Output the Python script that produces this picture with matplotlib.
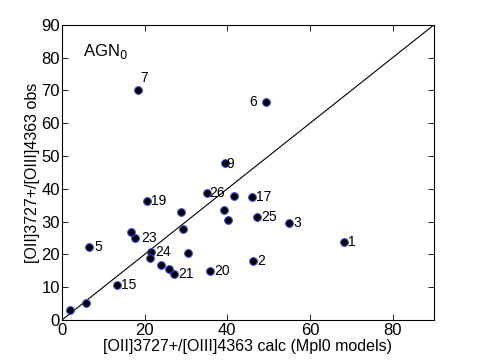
import numpy as np
import matplotlib
matplotlib.use('Agg')
import matplotlib.pyplot as plt

plt.rcParams['font.family'] = ['Liberation Sans', 'DejaVu Sans']

# calc (x) / obs (y) values for each object
calc = [68.3, 46.3, 55.0, 6.5, 49.4, 18.4, 39.5, 20.6, 46.0, 35.9, 27.2, 17.7, 21.5, 47.2, 35.1, 13.4,
        41.6, 28.8, 39.2, 40.1, 29.4, 16.6, 21.2, 30.5, 24.0, 26.0, 5.9, 1.9]
obs = [23.9, 18.0, 29.7, 22.4, 66.4, 70.1, 47.8, 36.2, 37.6, 14.8, 14.0, 25.1, 20.8, 31.3, 38.7, 10.6,
       37.9, 32.8, 33.6, 30.4, 27.8, 26.9, 18.8, 20.3, 16.9, 15.5, 5.2, 3.1]
names = ['1', '2', '3', '5', '6', '7', '9', '19', '17', '20', '21', '23', '24', '25', '26', '15',
         '', '', '', '', '', '', '', '', '', '', '', '']

# label offsets in pixels (default is just right of the point)
offsets = {'6': (-9, 0), '7': (2, 12), '9': (1, -1), '26': (2, 0), '5': (6, 0), '23': (6, 0)}

fig = plt.figure(figsize=(4.8, 3.61), dpi=100)
ax = fig.add_axes([0.129, 0.1136, 0.775, 0.8174])

ax.plot([0, 90], [0, 90], color='black', lw=0.8)
ax.plot(calc, obs, 'o', ls='none', ms=5.5, mfc='black', mec='#3344dd', mew=0.8)

for x, y, n in zip(calc, obs, names):
    if not n:
        continue
    dx, dy = offsets.get(n, (4, 0))
    ax.annotate(n, (x, y), xytext=(dx, dy), textcoords='offset pixels',
                ha='right' if dx < 0 else 'left', va='center', fontsize=10)

ax.text(5, 82, 'AGN$_0$', fontsize=12, va='center')

ax.set_xlim(0, 90)
ax.set_ylim(0, 90)
ax.set_xticks([0, 20, 40, 60, 80])
ax.set_yticks(np.arange(0, 91, 10))
ax.tick_params(direction='in', top=True, right=True, labelsize=12, length=4, width=0.6)
ax.tick_params(axis='x', pad=2.5)
ax.tick_params(axis='y', pad=1.5)
for s in ax.spines.values():
    s.set_linewidth(0.8)

ax.set_xlabel('[OII]3727+/[OIII]4363 calc (Mpl0 models)', fontsize=11.5, labelpad=0.5)
ax.set_ylabel('[OII]3727+/[OIII]4363 obs', fontsize=11.5, labelpad=1)

fig.savefig('out.png', dpi=100)
